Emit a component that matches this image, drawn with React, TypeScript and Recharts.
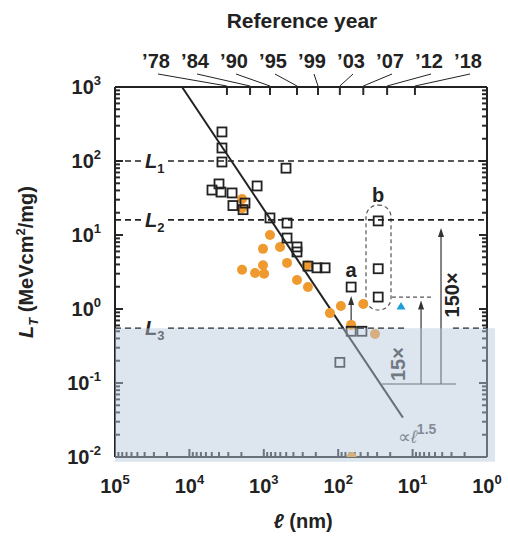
import React from 'react';
import {
  ComposedChart,
  Scatter,
  XAxis,
  YAxis,
  ReferenceLine,
  ReferenceArea,
  ReferenceDot,
} from 'recharts';

// ---------- data ----------
// l in nm, L (L_T) in MeV cm^2/mg
const squarePoints = [
  { l: 3650, L: 247 },
  { l: 3650, L: 150 },
  { l: 3650, L: 97 },
  { l: 503, L: 80 },
  { l: 4000, L: 49 },
  { l: 4970, L: 40.5 },
  { l: 3760, L: 38 },
  { l: 2670, L: 37 },
  { l: 1230, L: 46 },
  { l: 2600, L: 25 },
  { l: 1790, L: 27 },
  { l: 1900, L: 22 },
  { l: 826, L: 17 },
  { l: 487, L: 14.5 },
  { l: 487, L: 9.1 },
  { l: 358, L: 6.9 },
  { l: 358, L: 5.9 },
  { l: 255, L: 3.8 },
  { l: 193, L: 3.6 },
  { l: 150, L: 3.6 },
  { l: 67, L: 1.98 },
  { l: 29, L: 15.5 },
  { l: 29, L: 3.5 },
  { l: 29, L: 1.45 },
  { l: 67, L: 0.5 },
  { l: 48, L: 0.5 },
  { l: 95, L: 0.19 },
];

const circlePoints = [
  { l: 1960, L: 30.6 },
  { l: 1960, L: 23 },
  { l: 826, L: 10 },
  { l: 605, L: 6.9 },
  { l: 1025, L: 6.5 },
  { l: 487, L: 4.2 },
  { l: 1025, L: 3.9 },
  { l: 1960, L: 3.4 },
  { l: 1310, L: 3.06 },
  { l: 990, L: 3.0 },
  { l: 358, L: 2.47 },
  { l: 255, L: 1.98 },
  { l: 262, L: 3.9 },
  { l: 92, L: 1.1 },
  { l: 46, L: 1.17 },
  { l: 129, L: 0.88 },
  { l: 67, L: 0.61 },
  { l: 32, L: 0.46 },
  { l: 66, L: 0.01 },
];

const trianglePoints = [{ l: 14.3, L: 1.1 }];

const xMajorTicks = [100000, 10000, 1000, 100, 10, 1];
const yMajorTicks = [0.01, 0.1, 1, 10, 100, 1000];
const yearTicks = [3130, 1530, 826, 358, 187, 95, 46, 22, 9.3];
const yearLabels = ['\u201978', '\u201984', '\u201990', '\u201995', '\u201999', '\u201903', '\u201907', '\u201912', '\u201918'];

const levelValues = [100, 16, 0.55];
const levelNames = ['1', '2', '3'];

const powerLawEnds = [
  { l: 12560, L: 1000 },
  { l: 13.5, L: 0.034 },
];

// annotation values
const shadeTop = 0.55;
const arrowA = { l: 67, from: 0.61, to: 1.5 };
const arrow15 = { l: 7.7, from: 0.097, to: 1.3 };
const arrow150 = { l: 4.15, from: 0.097, to: 12.4 };
const baseLine = { l1: 25.8, l2: 2.6, L: 0.097 };
const bBox = { l1: 42.3, l2: 19.5, L1: 0.97, L2: 25.4 };
const bDash = { l1: 18.9, l2: 5.5, L: 1.45 };

// ---------- layout / style constants ----------
const FONT = "'Liberation Sans', Arial, Helvetica, sans-serif";
const INK = '#222';
const W = 508;
const H = 537;
const PLOT = { left: 115, right: 487, top: 87, bottom: 457 };
const PX_PER_DEC_X = 74.4;
const PX_PER_DEC_Y = 74;
const yearLabelX = [156, 195, 234, 273, 312, 351, 390, 429, 468];
const X_MIN = 1;
const X_MAX = 100000;
const Y_MIN = 0.01;
const Y_MAX = 1000;
const MAJOR_LEN = 8;
const MINOR_LEN = 5;

const minorTicks = (lo: number, hi: number) => {
  const out: number[] = [];
  for (let e = lo; e < hi; e++) for (let k = 2; k <= 9; k++) out.push(k * Math.pow(10, e));
  return out;
};
const xMinorTicks = minorTicks(0, 5);
const yMinorTicks = minorTicks(-2, 3);

// factors that correspond to a tick length in pixels on the log axes
const fx = (px: number) => Math.pow(10, px / PX_PER_DEC_X);
const fy = (px: number) => Math.pow(10, px / PX_PER_DEC_Y);

const expOf = (v: number) => Math.round(Math.log10(v));

const XTickLabel = (props: any) => {
  const { x, payload } = props;
  return (
    <text x={x} y={PLOT.bottom + 36} textAnchor="middle" fontFamily={FONT} fontWeight="bold" fontSize={20} fill={INK}>
      10
      <tspan dy={-9} fontSize={13}>
        {expOf(payload.value)}
      </tspan>
    </text>
  );
};

const YTickLabel = (props: any) => {
  const { y, payload } = props;
  return (
    <text x={PLOT.left - 14} y={y + 7} textAnchor="end" fontFamily={FONT} fontWeight="bold" fontSize={20} fill={INK}>
      10
      <tspan dy={-9} fontSize={13}>
        {expOf(payload.value)}
      </tspan>
    </text>
  );
};

const yearLabelShape = (i: number) => (p: any) => {
  const yt = Math.min(p.y1, p.y2);
  const lx = yearLabelX[i];
  return (
    <g>
      <line x1={p.x1} y1={yt - 1} x2={lx + 2} y2={74} stroke={INK} strokeWidth={1} />
      <text x={lx} y={68} textAnchor="middle" fontFamily={FONT} fontWeight="bold" fontSize={20} fill={INK}>
        {yearLabels[i]}
      </text>
    </g>
  );
};

// one tick mark as a short straight path between two scaled points
const TickMark = (p: any) => (
  <path d={`M${p.x1},${p.y1}L${p.x2},${p.y2}`} stroke="#2a2a2a" strokeWidth={2} fill="none" />
);

const SquareShape = (p: any) => (
  <rect x={p.cx - 4.5} y={p.cy - 4.5} width={9} height={9} fill="none" stroke={INK} strokeWidth={1.8} />
);
const CircleShape = (p: any) => <circle cx={p.cx} cy={p.cy} r={5} fill="#ef9a2e" />;
const TriangleShape = (p: any) => (
  <polygon
    points={`${p.cx},${p.cy - 4} ${p.cx - 4.5},${p.cy + 3.5} ${p.cx + 4.5},${p.cy + 3.5}`}
    fill="#1e9fd9"
  />
);

const ArrowShape = (p: any) => {
  const { x1, y1, x2, y2 } = p;
  const ang = Math.atan2(y2 - y1, x2 - x1);
  const len = 9;
  const half = 3;
  const bx = x2 - len * Math.cos(ang);
  const by = y2 - len * Math.sin(ang);
  const px = -Math.sin(ang) * half;
  const py = Math.cos(ang) * half;
  return (
    <g>
      <line x1={x1} y1={y1} x2={bx} y2={by} stroke="#333" strokeWidth={1.2} />
      <polygon points={`${x2},${y2} ${bx + px},${by + py} ${bx - px},${by - py}`} fill="#333" />
    </g>
  );
};

const textShape =
  (content: React.ReactNode, opts: { dx?: number; dy?: number; rotate?: boolean; size?: number; color?: string; anchor?: string }) =>
  (p: any) => {
    const x = p.cx + (opts.dx || 0);
    const y = p.cy + (opts.dy || 0);
    return (
      <text
        x={x}
        y={y}
        textAnchor={opts.anchor || 'middle'}
        fontFamily={FONT}
        fontWeight="bold"
        fontSize={opts.size || 20}
        fill={opts.color || INK}
        transform={opts.rotate ? `rotate(-90, ${x}, ${y})` : undefined}
      >
        {content}
      </text>
    );
  };

const BBoxShape = (p: any) => (
  <rect
    x={p.x}
    y={p.y}
    width={p.width}
    height={p.height}
    rx={12}
    ry={12}
    fill="none"
    stroke="#555"
    strokeWidth={1.2}
    strokeDasharray="4 3"
  />
);

const AX = { xAxisId: 'b', yAxisId: 'l' } as const;

export default function App() {
  const commonX = {
    type: 'number' as const,
    scale: 'log' as const,
    domain: [X_MIN, X_MAX],
    reversed: true,
    allowDataOverflow: true,
    interval: 0 as const,
    height: 1,
  };
  const commonY = {
    type: 'number' as const,
    scale: 'log' as const,
    domain: [Y_MIN, Y_MAX],
    allowDataOverflow: true,
    interval: 0 as const,
    width: 1,
  };
  const frame = { stroke: INK, strokeWidth: 2 };

  const xTickSet = [...xMajorTicks.map((v) => [v, MAJOR_LEN]), ...xMinorTicks.map((v) => [v, MINOR_LEN])];
  const yTickSet = [...yMajorTicks.map((v) => [v, MAJOR_LEN]), ...yMinorTicks.map((v) => [v, MINOR_LEN])];

  return (
    <div style={{ position: 'absolute', left: 0, top: 0, width: W, height: H, background: '#fff' }}>
      <ComposedChart
        width={W}
        height={H}
        margin={{ top: PLOT.top, right: W - PLOT.right, bottom: H - PLOT.bottom - 1, left: PLOT.left - 1 }}
      >
        {/* main axes with labels */}
        <XAxis
          {...commonX}
          xAxisId="b"
          dataKey="l"
          orientation="bottom"
          ticks={xMajorTicks}
          tick={<XTickLabel />}
          tickLine={false}
          tickSize={0}
          tickMargin={0}
          axisLine={frame}
          label={{
            content: () => (
              <text x={303} y={528} textAnchor="middle" fontFamily={FONT} fontWeight="bold" fontSize={20} fill={INK}>
                <tspan fontStyle="italic">ℓ</tspan> (nm)
              </text>
            ),
          }}
        />
        <XAxis
          {...commonX}
          xAxisId="top"
          orientation="top"
          mirror
          ticks={xMajorTicks}
          tick={false}
          tickLine={false}
          axisLine={frame}
          label={{
            content: () => (
              <text x={302} y={28} textAnchor="middle" fontFamily={FONT} fontWeight="bold" fontSize={21} fill={INK}>
                Reference year
              </text>
            ),
          }}
        />

        <YAxis
          {...commonY}
          yAxisId="l"
          dataKey="L"
          orientation="left"
          ticks={yMajorTicks}
          tick={<YTickLabel />}
          tickLine={false}
          tickSize={0}
          tickMargin={0}
          axisLine={frame}
          label={{
            content: () => (
              <text
                transform="translate(33, 262) rotate(-90)"
                textAnchor="middle"
                fontFamily={FONT}
                fontWeight="bold"
                fontSize={20}
                fill={INK}
              >
                <tspan fontStyle="italic">L</tspan>
                <tspan fontStyle="italic" fontSize={13} dy={5}>
                  T
                </tspan>
                <tspan dy={-5}> (MeVcm</tspan>
                <tspan fontSize={13} dy={-8}>
                  2
                </tspan>
                <tspan dy={8}>/mg)</tspan>
              </text>
            ),
          }}
        />
        <YAxis {...commonY} yAxisId="r" orientation="right" mirror ticks={yMajorTicks} tick={false} tickLine={false} axisLine={frame} />

        {/* inward tick marks */}
        {xTickSet.map(([v, s]) => (
          <ReferenceLine
            key={`xt${v}`}
            {...AX}
            ifOverflow="visible"
            shape={TickMark}
            segment={[
              { x: v, y: Y_MIN },
              { x: v, y: Y_MIN * fy(s) },
            ]}
          />
        ))}
        {yTickSet.map(([v, s]) => (
          <ReferenceLine
            key={`ytl${v}`}
            {...AX}
            ifOverflow="visible"
            shape={TickMark}
            segment={[
              { x: X_MAX, y: v },
              { x: X_MAX / fx(s), y: v },
            ]}
          />
        ))}
        {yTickSet.map(([v, s]) => (
          <ReferenceLine
            key={`ytr${v}`}
            {...AX}
            ifOverflow="visible"
            shape={TickMark}
            segment={[
              { x: X_MIN, y: v },
              { x: X_MIN * fx(s), y: v },
            ]}
          />
        ))}
        {yearTicks.map((v) => (
          <ReferenceLine
            key={`yrt${v}`}
            {...AX}
            ifOverflow="visible"
            shape={TickMark}
            segment={[
              { x: v, y: Y_MAX },
              { x: v, y: Y_MAX / fy(MAJOR_LEN) },
            ]}
          />
        ))}
        {yearTicks.map((v, i) => (
          <ReferenceLine key={`yrl${v}`} {...AX} x={v} shape={yearLabelShape(i)} />
        ))}

        {/* dashed threshold levels */}
        {levelValues.map((v, i) => (
          <ReferenceLine
            key={`lvA${i}`}
            {...AX}
            segment={[
              { x: 100000, y: v },
              { x: 42000, y: v },
            ]}
            stroke={INK}
            strokeWidth={1.6}
            strokeDasharray="6 4"
            ifOverflow="visible"
          />
        ))}
        {levelValues.map((v, i) => (
          <ReferenceLine
            key={`lvB${i}`}
            {...AX}
            segment={[
              { x: 19400, y: v },
              { x: i === 2 ? 11.9 : 1, y: v },
            ]}
            stroke={INK}
            strokeWidth={1.6}
            strokeDasharray="6 4"
            ifOverflow="visible"
          />
        ))}
        <ReferenceLine
          {...AX}
          segment={[
            { x: 2.87, y: levelValues[2] },
            { x: 1, y: levelValues[2] },
          ]}
          stroke={INK}
          strokeWidth={1.6}
          strokeDasharray="6 4"
          ifOverflow="visible"
        />
        {levelValues.map((v, i) => (
          <ReferenceDot
            key={`lvL${i}`}
            {...AX}
            x={39500}
            y={v}
            ifOverflow="visible"
            shape={(p: any) => (
              <text x={p.cx} y={p.cy + 7} fontFamily={FONT} fontWeight="bold" fontSize={20} fill={INK}>
                <tspan fontStyle="italic">L</tspan>
                <tspan fontSize={13} dy={5}>
                  {levelNames[i]}
                </tspan>
              </text>
            )}
          />
        ))}

        {/* power law */}
        <ReferenceLine
          {...AX}
          segment={[
            { x: powerLawEnds[0].l, y: powerLawEnds[0].L },
            { x: powerLawEnds[1].l, y: powerLawEnds[1].L },
          ]}
          stroke={INK}
          strokeWidth={2}
          ifOverflow="visible"
        />
        <ReferenceDot
          {...AX}
          x={15.7}
          y={0.0186}
          ifOverflow="visible"
          shape={(p: any) => (
            <text x={p.cx} y={p.cy + 6} fontFamily={FONT} fontSize={18} fill="#555">
              ∝<tspan fontStyle="italic">ℓ</tspan>
              <tspan dy={-9} fontSize={14} fontWeight="bold">
                1.5
              </tspan>
            </text>
          )}
        />

        {/* annotations */}
        <ReferenceArea {...AX} x1={bBox.l1} x2={bBox.l2} y1={bBox.L1} y2={bBox.L2} shape={BBoxShape} ifOverflow="visible" />
        <ReferenceLine
          {...AX}
          segment={[
            { x: bDash.l1, y: bDash.L },
            { x: bDash.l2, y: bDash.L },
          ]}
          stroke="#555"
          strokeWidth={1.2}
          strokeDasharray="4 3"
          ifOverflow="visible"
        />
        <ReferenceLine
          {...AX}
          segment={[
            { x: baseLine.l1, y: baseLine.L },
            { x: baseLine.l2, y: baseLine.L },
          ]}
          stroke="#333"
          strokeWidth={1.2}
          ifOverflow="visible"
        />
        <ReferenceLine {...AX} segment={[{ x: arrowA.l, y: arrowA.from }, { x: arrowA.l, y: arrowA.to }]} shape={ArrowShape} ifOverflow="visible" />
        <ReferenceLine {...AX} segment={[{ x: arrow15.l, y: arrow15.from }, { x: arrow15.l, y: arrow15.to }]} shape={ArrowShape} ifOverflow="visible" />
        <ReferenceLine {...AX} segment={[{ x: arrow150.l, y: arrow150.from }, { x: arrow150.l, y: arrow150.to }]} shape={ArrowShape} ifOverflow="visible" />

        <ReferenceDot {...AX} x={67} y={2.7} ifOverflow="visible" shape={textShape('a', {})} />
        <ReferenceDot {...AX} x={29} y={27.9} ifOverflow="visible" shape={textShape('b', {})} />
        <ReferenceDot {...AX} x={12.6} y={0.224} ifOverflow="visible" shape={textShape('15×', { rotate: true, dy: 7, color: '#333' })} />
        <ReferenceDot {...AX} x={2.95} y={1.55} ifOverflow="visible" shape={textShape('150×', { rotate: true, dx: 7 })} />

        {/* data */}
        <Scatter {...AX} data={circlePoints} shape={CircleShape} isAnimationActive={false} />
        <Scatter {...AX} data={squarePoints} shape={SquareShape} isAnimationActive={false} />
        <Scatter {...AX} data={trianglePoints} shape={TriangleShape} isAnimationActive={false} />

        {/* translucent shaded region laid over the lower part */}
        <ReferenceArea
          {...AX}
          x1={100000}
          x2={0.78}
          y1={0.0086}
          y2={shadeTop}
          fill="#b6c7dc"
          fillOpacity={0.47}
          stroke="none"
          ifOverflow="visible"
          {...({ zIndex: 1000 } as any)}
        />
      </ComposedChart>
    </div>
  );
}
